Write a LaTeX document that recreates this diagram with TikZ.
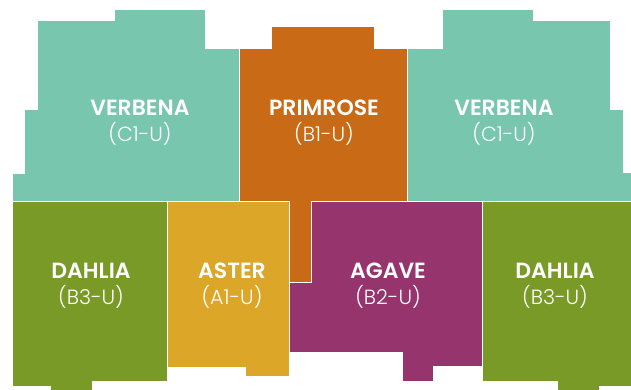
\documentclass[tikz,border=0pt]{standalone}
\usepackage{fontspec}
\setmainfont{Poppins}[UprightFont={Poppins Light},BoldFont={Poppins SemiBold}]
\definecolor{verbena}{HTML}{78C6AE}
\definecolor{primrose}{HTML}{C96A17}
\definecolor{dahlia}{HTML}{7A9A28}
\definecolor{aster}{HTML}{DCA628}
\definecolor{agave}{HTML}{96346E}
\newcommand{\unitname}[1]{{\fontsize{22}{26}\selectfont\bfseries #1}}
\begin{document}
\begin{tikzpicture}[x=1pt,y=-1pt,
  unit/.style={draw=white,line width=0.5pt,line join=miter},
  lbl/.style={text=white,align=center,font=\fontsize{20.5}{26.5}\selectfont}]
\useasboundingbox (0,0) rectangle (631,389);
% left verbena
\fill[verbena,unit] (12,202) -- (12,173) -- (24,173) -- (24,109) -- (37.7,109) -- (37.7,20) -- (114,20) -- (114,9) -- (205,9) -- (205,48) -- (239,48) -- (239,202) -- cycle;
% primrose
\fill[primrose,unit] (239,48) -- (271,48) -- (271,26) -- (374.3,26) -- (374.3,48) -- (407.7,48) -- (407.7,201.7) -- (311.7,201.7) -- (311.7,282.3) -- (289,282.3) -- (289,201.5) -- (239,201.5) -- cycle;
% right verbena
\fill[verbena,unit] (407.7,48) -- (442,48) -- (442,9) -- (533.7,9) -- (533.7,20) -- (610,20) -- (610,109) -- (623.7,109) -- (623.7,172.7) -- (632,172.7) -- (632,201.7) -- (407.7,201.7) -- cycle;
% left dahlia
\fill[dahlia,unit] (12,201.7) -- (167.3,201.7) -- (167.3,381.7) -- (92,381.7) -- (92,390) -- (50,390) -- (50,386.7) -- (12,386.7) -- cycle;
% aster
\fill[aster,unit] (167.3,201.5) -- (289,201.5) -- (289,376) -- (245.3,376) -- (245.3,367.3) -- (167.3,367.3) -- cycle;
% agave
\fill[agave,unit] (311.7,201.7) -- (482,201.7) -- (482,366.7) -- (433.7,366.7) -- (433.7,381.7) -- (402.7,381.7) -- (402.7,352.3) -- (289,352.3) -- (289,282.3) -- (311.7,282.3) -- cycle;
% right dahlia
\fill[dahlia,unit] (482,201.7) -- (632,201.7) -- (632,386.7) -- (599.7,386.7) -- (599.7,390) -- (557,390) -- (557,381.7) -- (482,381.7) -- cycle;
% labels
\node[lbl] (v1) at (140,122.5) {\unitname{VERBENA}\\(C1-U)};
\node[lbl] (p1) at (324,122.5) {\unitname{PRIMROSE}\\(B1-U)};
\node[lbl] (v2) at (504,122.5) {\unitname{VERBENA}\\(C1-U)};
\node[lbl] (d1) at (91,285.5) {\unitname{DAHLIA}\\(B3-U)};
\node[lbl] (a1) at (232,285.5) {\unitname{ASTER}\\(A1-U)};
\node[lbl] (g1) at (388,285.5) {\unitname{AGAVE}\\(B2-U)};
\node[lbl] (d2) at (555,285.5) {\unitname{DAHLIA}\\(B3-U)};
\end{tikzpicture}
\end{document}
